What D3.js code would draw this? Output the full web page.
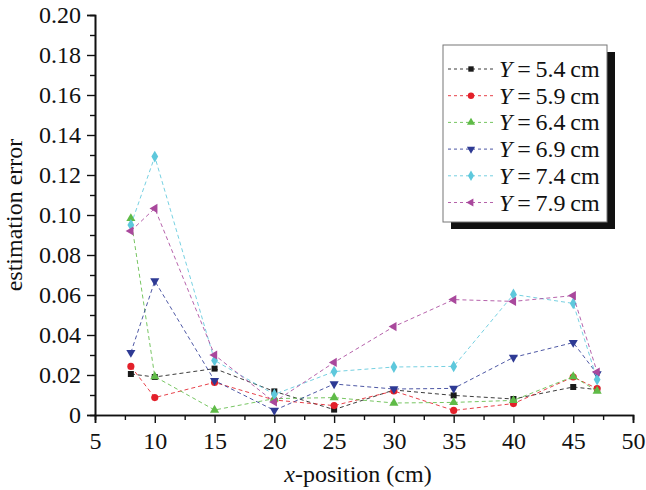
<!DOCTYPE html>
<html>
<head>
<meta charset="utf-8">
<script src="https://cdn.jsdelivr.net/npm/d3@7"></script>
<style>
  html, body { margin: 0; padding: 0; background: #fff; }
  svg { display: block; }
  text { font-family: "Liberation Serif", "Times New Roman", serif; }
</style>
</head>
<body>
<svg id="chart" width="646" height="490"></svg>
<script>
// ---- data ----
const xPositions = [8, 10, 15, 20, 25, 30, 35, 40, 45, 47];
const seriesNames = ["5.4", "5.9", "6.4", "6.9", "7.4", "7.9"];
const errY54 = [0.0205, 0.0190, 0.0232, 0.0118, 0.0027, 0.0125, 0.0098, 0.0080, 0.0140, 0.0127];
const errY59 = [0.0243, 0.0087, 0.0163, 0.0075, 0.0047, 0.0120, 0.0023, 0.0057, 0.0190, 0.0132];
const errY64 = [0.0983, 0.0192, 0.0025, 0.0082, 0.0087, 0.0060, 0.0063, 0.0073, 0.0192, 0.0120];
const errY69 = [0.0312, 0.0670, 0.0172, 0.0023, 0.0155, 0.0130, 0.0133, 0.0288, 0.0362, 0.0205];
const errY74 = [0.0950, 0.1292, 0.0273, 0.0103, 0.0217, 0.0240, 0.0243, 0.0603, 0.0558, 0.0177];
const errY79 = [0.0920, 0.1033, 0.0300, 0.0065, 0.0263, 0.0442, 0.0577, 0.0568, 0.0597, 0.0215];
const xTicks = [5, 10, 15, 20, 25, 30, 35, 40, 45, 50];
const yTicks = [0, 0.02, 0.04, 0.06, 0.08, 0.10, 0.12, 0.14, 0.16, 0.18, 0.20];
const yTickLabels = ["0", "0.02", "0.04", "0.06", "0.08", "0.10", "0.12", "0.14", "0.16", "0.18", "0.20"];

const seriesValues = [errY54, errY59, errY64, errY69, errY74, errY79];
const colors = ["#1a1a1a", "#e3202a", "#5fbb47", "#2e3a94", "#5ec8dc", "#a9489c"];
const symbols = [
  { type: d3.symbolSquare, size: 36, rot: 0 },
  { type: d3.symbolCircle, size: 40, rot: 0 },
  { type: d3.symbolTriangle, size: 36, rot: 0 },
  { type: d3.symbolTriangle, size: 36, rot: 180 },
  { type: d3.symbolDiamond, size: 40, rot: 0 },
  { type: d3.symbolTriangle, size: 36, rot: -90 }
];

const svg = d3.select("#chart");
const x = d3.scaleLinear().domain([5, 50]).range([95, 633]);
const y = d3.scaleLinear().domain([0, 0.20]).range([415, 15]);

// axes
const yAxis = d3.axisLeft(y).tickValues(yTicks)
  .tickFormat((d, i) => yTickLabels[i]).tickSize(8).tickPadding(6);
const yMinor = d3.axisLeft(y).tickValues(d3.range(0.01, 0.2, 0.02)).tickFormat("").tickSize(5);
const xAxis = d3.axisBottom(x).tickValues(xTicks).tickSize(8).tickPadding(9);
const xMinor = d3.axisBottom(x).tickValues(d3.range(7.5, 50, 5)).tickFormat("").tickSize(5);

function styleAxis(g) {
  g.select(".domain").attr("stroke", "#111").attr("stroke-width", 1.6);
  g.selectAll(".tick line").attr("stroke", "#111").attr("stroke-width", 1.4);
  g.selectAll(".tick text").attr("font-size", 24).attr("fill", "#111")
    .attr("font-family", "Liberation Serif, serif");
}

svg.append("g").attr("transform", "translate(95,0)").call(yMinor).call(styleAxis);
svg.append("g").attr("transform", "translate(95,0)").call(yAxis).call(styleAxis);
svg.append("g").attr("transform", "translate(0,415)").call(xMinor).call(styleAxis);
svg.append("g").attr("transform", "translate(0,415)").call(xAxis).call(styleAxis);

// axis titles
svg.append("text")
  .attr("transform", "translate(22,215) rotate(-90)")
  .attr("text-anchor", "middle").attr("font-size", 24).attr("fill", "#111")
  .text("estimation error");
const xt = svg.append("text")
  .attr("x", 358).attr("y", 482)
  .attr("text-anchor", "middle").attr("font-size", 24).attr("fill", "#111");
xt.append("tspan").attr("font-style", "italic").text("x");
xt.append("tspan").text("-position (cm)");

// series
const line = d3.line().x((d, i) => x(xPositions[i])).y(d => y(d));
seriesValues.forEach((vals, s) => {
  const g = svg.append("g");
  g.append("path").datum(vals)
    .attr("d", line).attr("fill", "none")
    .attr("stroke", colors[s]).attr("stroke-width", 1)
    .attr("stroke-dasharray", "4,3").attr("opacity", 0.85);
  g.selectAll("path.m").data(vals).enter().append("path")
    .attr("class", "m")
    .attr("d", d3.symbol().type(symbols[s].type).size(symbols[s].size))
    .attr("transform", (d, i) => `translate(${x(xPositions[i])},${y(d)}) rotate(${symbols[s].rot})`)
    .attr("fill", colors[s]);
});

// legend
const lg = svg.append("g");
lg.append("rect").attr("x", 451).attr("y", 52).attr("width", 164).attr("height", 177).attr("fill", "#111");
lg.append("rect").attr("x", 443).attr("y", 45).attr("width", 164).attr("height", 177)
  .attr("fill", "#fff").attr("stroke", "#777").attr("stroke-width", 1);
seriesNames.forEach((name, s) => {
  const cy = 69 + s * 26.7;
  lg.append("line").attr("x1", 448).attr("x2", 494).attr("y1", cy).attr("y2", cy)
    .attr("stroke", colors[s]).attr("stroke-width", 1).attr("stroke-dasharray", "3,3").attr("opacity", 0.85);
  lg.append("path")
    .attr("d", d3.symbol().type(symbols[s].type).size(symbols[s].size * 0.8))
    .attr("transform", `translate(471,${cy}) rotate(${symbols[s].rot})`)
    .attr("fill", colors[s]);
  const t = lg.append("text").attr("x", 499).attr("y", cy + 8).attr("font-size", 24).attr("fill", "#111");
  t.append("tspan").attr("font-style", "italic").text("Y");
  t.append("tspan").text("\u2009=\u2009" + name + "\u2009cm");
});
</script>
</body>
</html>
